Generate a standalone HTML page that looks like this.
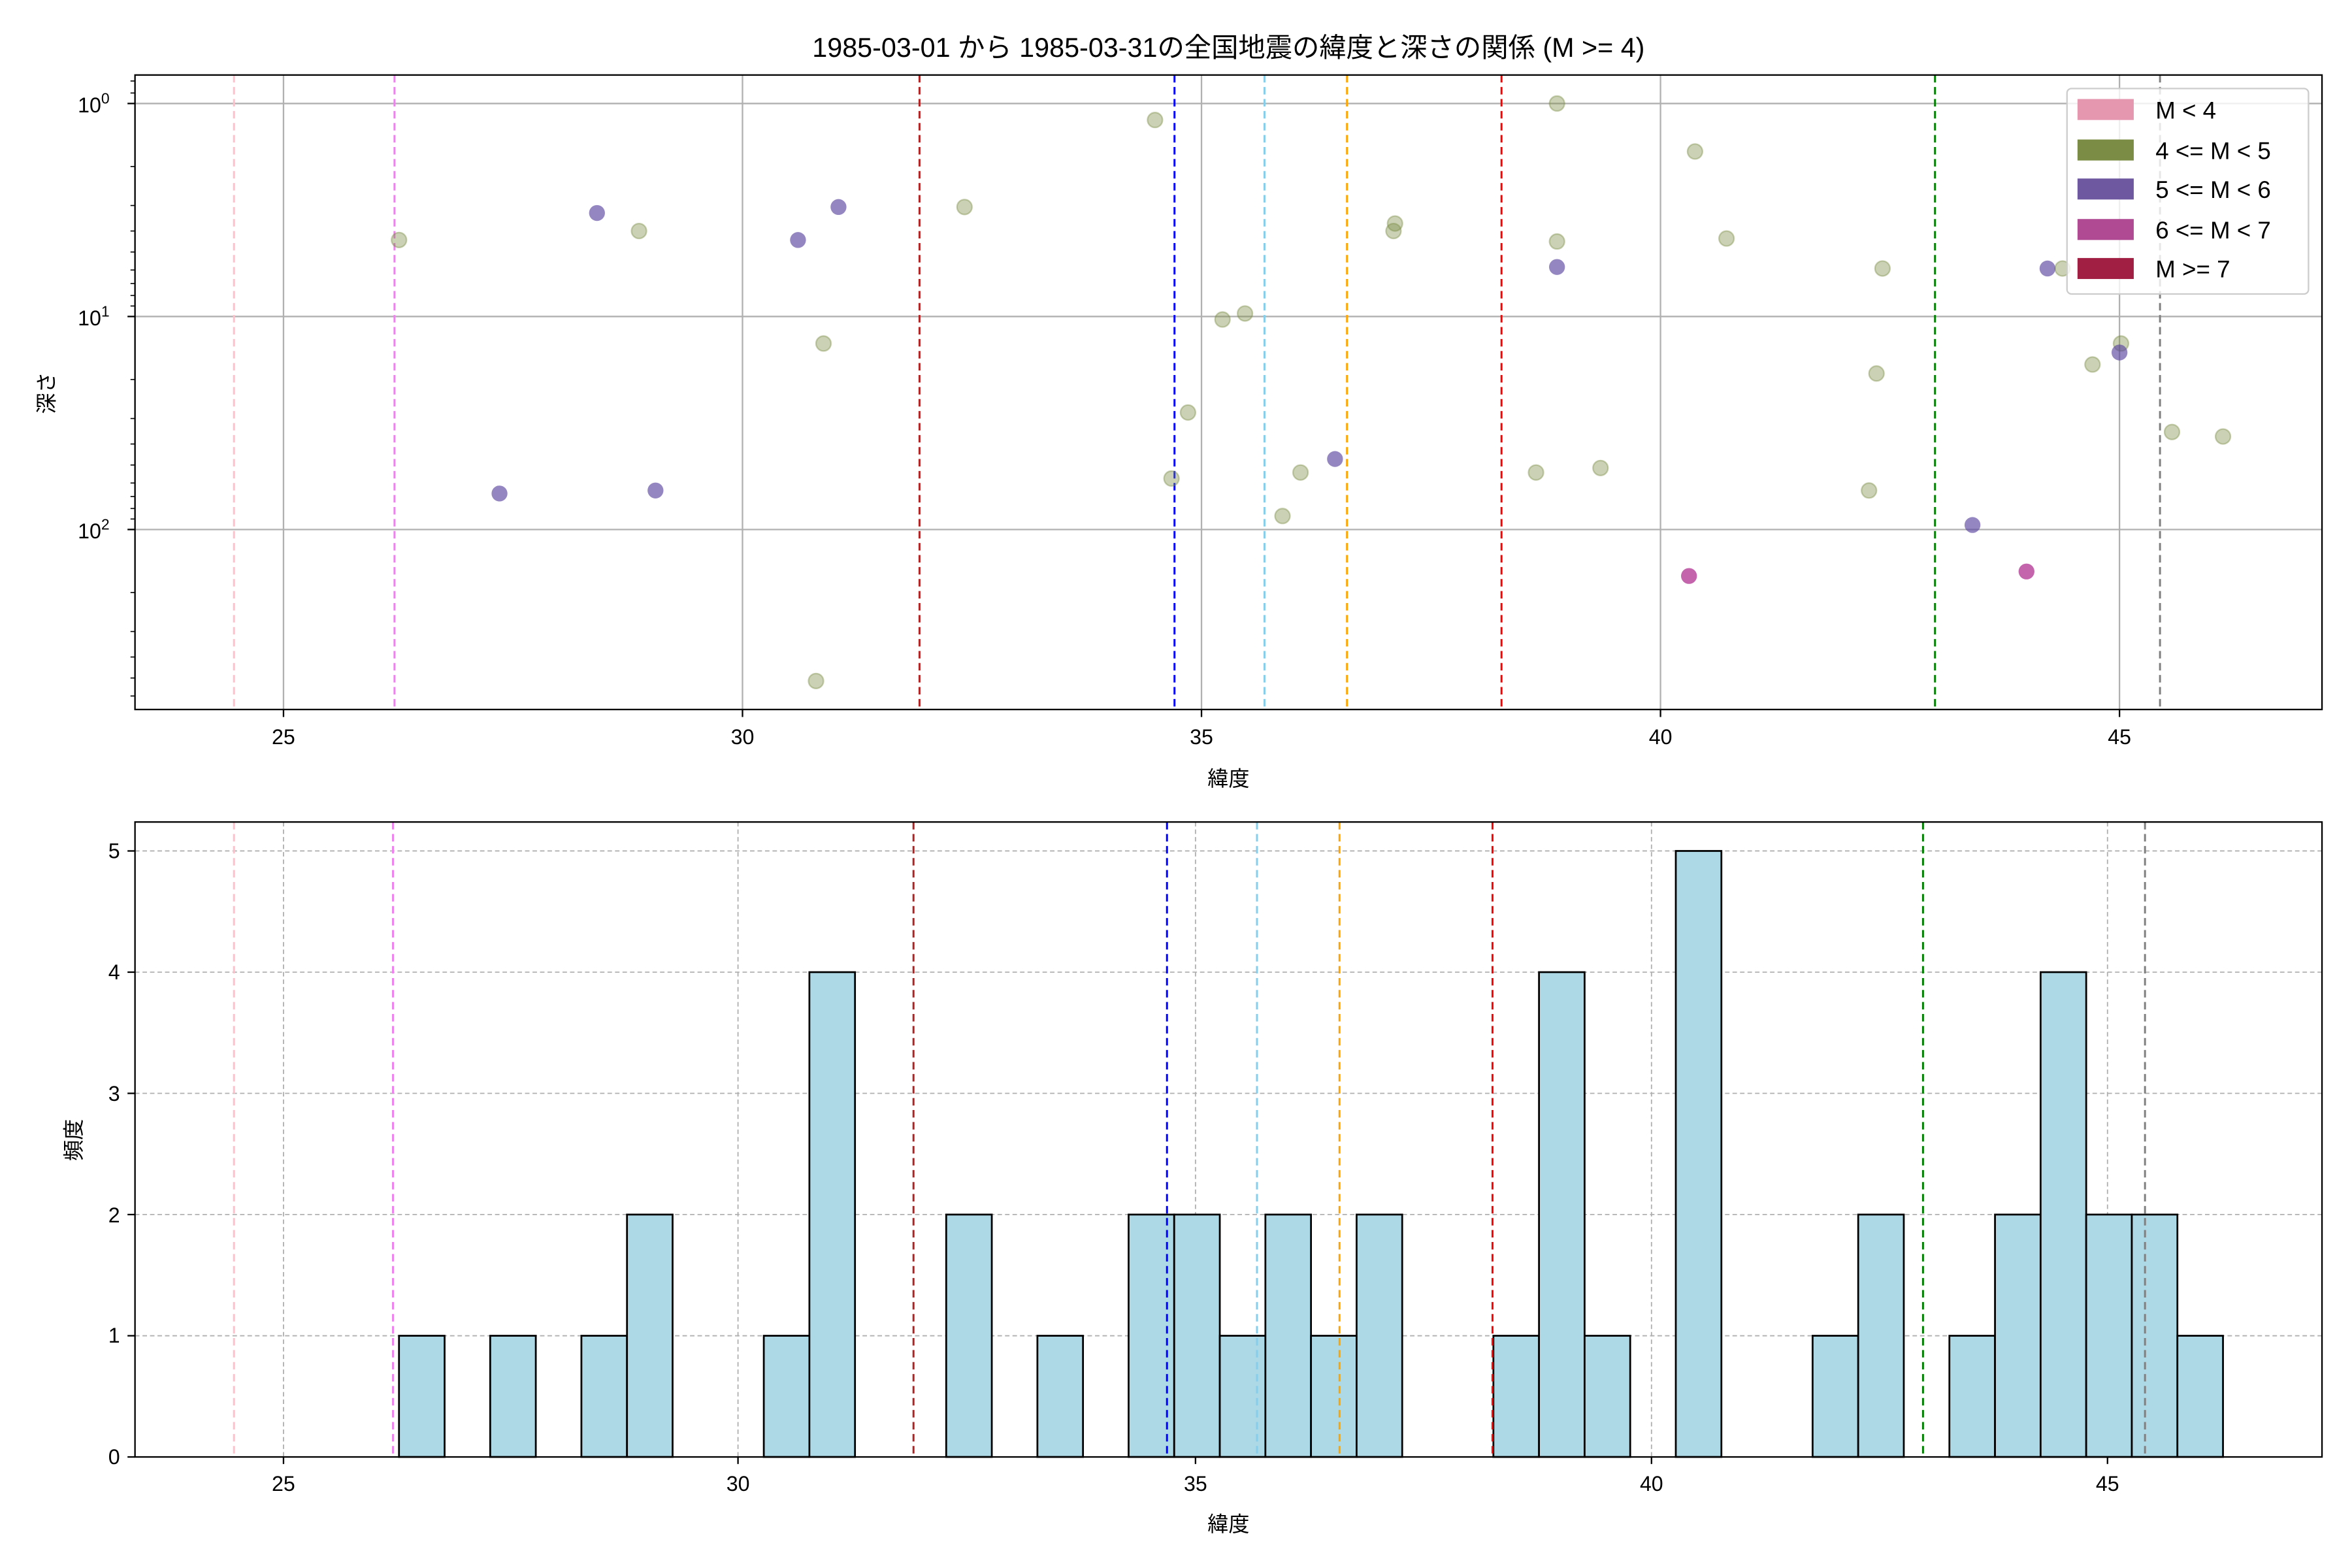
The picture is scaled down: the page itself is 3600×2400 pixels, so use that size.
<!DOCTYPE html>
<html><head><meta charset="utf-8"><style>
html,body{margin:0;padding:0;background:#fff;}
svg{display:block;}
text{font-family:"Liberation Sans","Noto Sans CJK JP",sans-serif;fill:#000;}
</style></head><body>
<svg width="3600" height="2400" viewBox="0 0 1568 1045.33" xmlns="http://www.w3.org/2000/svg">
<rect x="0" y="0" width="1568" height="1046" fill="#fff"/>
<text x="819" y="38" font-size="18" text-anchor="middle">1985-03-01 から 1985-03-31の全国地震の緯度と深さの関係 (M &gt;= 4)</text>

<!-- TOP AXES -->
<g stroke="#b0b0b0" stroke-width="1">
<line x1="189" y1="50" x2="189" y2="473"/><line x1="495" y1="50" x2="495" y2="473"/>
<line x1="801" y1="50" x2="801" y2="473"/><line x1="1107" y1="50" x2="1107" y2="473"/>
<line x1="1413" y1="50" x2="1413" y2="473"/>
<line x1="90" y1="69" x2="1548" y2="69"/><line x1="90" y1="211" x2="1548" y2="211"/><line x1="90" y1="353" x2="1548" y2="353"/>
</g>
<g stroke-width="1.3" stroke-dasharray="5,3" fill="none">
<line x1="156" y1="50" x2="156" y2="473" stroke="pink"/>
<line x1="263" y1="50" x2="263" y2="473" stroke="violet"/>
<line x1="613" y1="50" x2="613" y2="473" stroke="#b22222"/>
<line x1="783" y1="50" x2="783" y2="473" stroke="blue"/>
<line x1="843" y1="50" x2="843" y2="473" stroke="skyblue"/>
<line x1="898" y1="50" x2="898" y2="473" stroke="orange"/>
<line x1="1001" y1="50" x2="1001" y2="473" stroke="red"/>
<line x1="1290" y1="50" x2="1290" y2="473" stroke="green"/>
<line x1="1440" y1="50" x2="1440" y2="473" stroke="gray"/>
</g>
<g fill="#7b8c44" fill-opacity="0.4" stroke="#7b8c44" stroke-opacity="0.4" stroke-width="1">
<circle cx="266" cy="160" r="5"/><circle cx="426" cy="154" r="5"/><circle cx="549" cy="229" r="5"/>
<circle cx="643" cy="138" r="5"/><circle cx="770" cy="80" r="5"/><circle cx="792" cy="275" r="5"/>
<circle cx="781" cy="319" r="5"/><circle cx="815" cy="213" r="5"/><circle cx="830" cy="209" r="5"/>
<circle cx="855" cy="344" r="5"/><circle cx="867" cy="315" r="5"/><circle cx="929" cy="154" r="5"/>
<circle cx="930" cy="149" r="5"/><circle cx="1038" cy="69" r="5"/><circle cx="1038" cy="161" r="5"/>
<circle cx="1024" cy="315" r="5"/><circle cx="1067" cy="312" r="5"/><circle cx="1130" cy="101" r="5"/>
<circle cx="1151" cy="159" r="5"/><circle cx="1255" cy="179" r="5"/><circle cx="1251" cy="249" r="5"/>
<circle cx="1246" cy="327" r="5"/><circle cx="1375" cy="179" r="5"/><circle cx="1395" cy="243" r="5"/>
<circle cx="1414" cy="229" r="5"/><circle cx="1448" cy="288" r="5"/><circle cx="1482" cy="291" r="5"/>
<circle cx="544" cy="454" r="5"/>
</g>
<g fill="#5b45a0" fill-opacity="0.65">
<circle cx="398" cy="142" r="5.3"/><circle cx="532" cy="160" r="5.3"/><circle cx="559" cy="138" r="5.3"/>
<circle cx="333" cy="329" r="5.3"/><circle cx="437" cy="327" r="5.3"/><circle cx="890" cy="306" r="5.3"/>
<circle cx="1038" cy="178" r="5.3"/><circle cx="1365" cy="179" r="5.3"/><circle cx="1413" cy="235" r="5.3"/>
<circle cx="1315" cy="350" r="5.3"/>
</g>
<g fill="#b03090" fill-opacity="0.75">
<circle cx="1126" cy="384" r="5.3"/><circle cx="1351" cy="381" r="5.3"/>
</g>
<rect x="90" y="50" width="1458" height="423" fill="none" stroke="#000" stroke-width="1"/>
<!-- top ticks -->
<g stroke="#000" stroke-width="1">
<line x1="189" y1="473" x2="189" y2="478"/><line x1="495" y1="473" x2="495" y2="478"/>
<line x1="801" y1="473" x2="801" y2="478"/><line x1="1107" y1="473" x2="1107" y2="478"/>
<line x1="1413" y1="473" x2="1413" y2="478"/>
<line x1="85" y1="69" x2="90" y2="69"/><line x1="85" y1="211" x2="90" y2="211"/><line x1="85" y1="353" x2="90" y2="353"/>
</g>
<g stroke="#000" stroke-width="0.7">
<line x1="87" y1="54" x2="90" y2="54"/><line x1="87" y1="62" x2="90" y2="62"/>
<line x1="87" y1="111" x2="90" y2="111"/><line x1="87" y1="137" x2="90" y2="137"/><line x1="87" y1="154" x2="90" y2="154"/><line x1="87" y1="168" x2="90" y2="168"/><line x1="87" y1="180" x2="90" y2="180"/><line x1="87" y1="189" x2="90" y2="189"/><line x1="87" y1="197" x2="90" y2="197"/><line x1="87" y1="204" x2="90" y2="204"/>
<line x1="87" y1="253" x2="90" y2="253"/><line x1="87" y1="279" x2="90" y2="279"/><line x1="87" y1="296" x2="90" y2="296"/><line x1="87" y1="310" x2="90" y2="310"/><line x1="87" y1="322" x2="90" y2="322"/><line x1="87" y1="331" x2="90" y2="331"/><line x1="87" y1="339" x2="90" y2="339"/><line x1="87" y1="346" x2="90" y2="346"/>
<line x1="87" y1="395" x2="90" y2="395"/><line x1="87" y1="421" x2="90" y2="421"/><line x1="87" y1="438" x2="90" y2="438"/><line x1="87" y1="452" x2="90" y2="452"/><line x1="87" y1="464" x2="90" y2="464"/>
</g>
<g font-size="14" text-anchor="middle">
<text x="189" y="496">25</text><text x="495" y="496">30</text><text x="801" y="496">35</text><text x="1107" y="496">40</text><text x="1413" y="496">45</text>
</g>
<g font-size="14" text-anchor="end">
<text x="73" y="75">10<tspan font-size="10" dy="-6">0</tspan></text>
<text x="73" y="217">10<tspan font-size="10" dy="-6">1</tspan></text>
<text x="73" y="359">10<tspan font-size="10" dy="-6">2</tspan></text>
</g>
<text x="819" y="524" font-size="14" text-anchor="middle">緯度</text>
<text transform="translate(36,262) rotate(-90)" font-size="14" text-anchor="middle">深さ</text>

<!-- legend -->
<rect x="1378" y="59" width="161" height="137" rx="3" fill="#fff" fill-opacity="0.8" stroke="#ccc" stroke-width="1"/>
<rect x="1385" y="66" width="37.5" height="14" fill="#e597b0"/>
<rect x="1385" y="93" width="37.5" height="14" fill="#7b8c44"/>
<rect x="1385" y="119" width="37.5" height="14" fill="#6e58a0"/>
<rect x="1385" y="146" width="37.5" height="14" fill="#b04b93"/>
<rect x="1385" y="172" width="37.5" height="14" fill="#a01f42"/>
<g font-size="16">
<text x="1437" y="79">M &lt; 4</text>
<text x="1437" y="106">4 &lt;= M &lt; 5</text>
<text x="1437" y="132">5 &lt;= M &lt; 6</text>
<text x="1437" y="159">6 &lt;= M &lt; 7</text>
<text x="1437" y="185">M &gt;= 7</text>
</g>

<!-- BOTTOM AXES -->
<g stroke="#b0b0b0" stroke-width="0.8" stroke-dasharray="3,2">
<line x1="189" y1="548" x2="189" y2="971"/><line x1="492" y1="548" x2="492" y2="971"/>
<line x1="797" y1="548" x2="797" y2="971"/><line x1="1101" y1="548" x2="1101" y2="971"/>
<line x1="1405" y1="548" x2="1405" y2="971"/>
<line x1="90" y1="890.5" x2="1548" y2="890.5"/><line x1="90" y1="809.7" x2="1548" y2="809.7"/>
<line x1="90" y1="728.9" x2="1548" y2="728.9"/><line x1="90" y1="648.1" x2="1548" y2="648.1"/>
<line x1="90" y1="567.3" x2="1548" y2="567.3"/>
</g>
<g fill="#add8e6" stroke="#000" stroke-width="1.2">
<rect x="266" y="890.5" width="30.4" height="80.8"/>
<rect x="326.8" y="890.5" width="30.4" height="80.8"/>
<rect x="387.6" y="890.5" width="30.4" height="80.8"/>
<rect x="418" y="809.7" width="30.4" height="161.6"/>
<rect x="509.2" y="890.5" width="30.4" height="80.8"/>
<rect x="539.6" y="648.1" width="30.4" height="323.2"/>
<rect x="630.8" y="809.7" width="30.4" height="161.6"/>
<rect x="691.6" y="890.5" width="30.4" height="80.8"/>
<rect x="752.4" y="809.7" width="30.4" height="161.6"/>
<rect x="782.8" y="809.7" width="30.4" height="161.6"/>
<rect x="813.2" y="890.5" width="30.4" height="80.8"/>
<rect x="843.6" y="809.7" width="30.4" height="161.6"/>
<rect x="874" y="890.5" width="30.4" height="80.8"/>
<rect x="904.4" y="809.7" width="30.4" height="161.6"/>
<rect x="995.6" y="890.5" width="30.4" height="80.8"/>
<rect x="1026" y="648.1" width="30.4" height="323.2"/>
<rect x="1056.4" y="890.5" width="30.4" height="80.8"/>
<rect x="1117.2" y="567.3" width="30.4" height="404"/>
<rect x="1208.4" y="890.5" width="30.4" height="80.8"/>
<rect x="1238.8" y="809.7" width="30.4" height="161.6"/>
<rect x="1299.6" y="890.5" width="30.4" height="80.8"/>
<rect x="1330" y="809.7" width="30.4" height="161.6"/>
<rect x="1360.4" y="648.1" width="30.4" height="323.2"/>
<rect x="1390.8" y="809.7" width="30.4" height="161.6"/>
<rect x="1421.2" y="809.7" width="30.4" height="161.6"/>
<rect x="1451.6" y="890.5" width="30.4" height="80.8"/>
</g>
<g stroke-width="1.3" stroke-dasharray="5,3" fill="none">
<line x1="156" y1="548" x2="156" y2="971" stroke="pink"/>
<line x1="262" y1="548" x2="262" y2="971" stroke="violet"/>
<line x1="609" y1="548" x2="609" y2="971" stroke="#b22222"/>
<line x1="778" y1="548" x2="778" y2="971" stroke="blue"/>
<line x1="838" y1="548" x2="838" y2="971" stroke="skyblue"/>
<line x1="893" y1="548" x2="893" y2="971" stroke="orange"/>
<line x1="995" y1="548" x2="995" y2="971" stroke="red"/>
<line x1="1282" y1="548" x2="1282" y2="971" stroke="green"/>
<line x1="1430" y1="548" x2="1430" y2="971" stroke="gray"/>
</g>
<rect x="90" y="548" width="1458" height="423.3" fill="none" stroke="#000" stroke-width="1"/>
<g stroke="#000" stroke-width="1">
<line x1="189" y1="971" x2="189" y2="976"/><line x1="492" y1="971" x2="492" y2="976"/>
<line x1="797" y1="971" x2="797" y2="976"/><line x1="1101" y1="971" x2="1101" y2="976"/>
<line x1="1405" y1="971" x2="1405" y2="976"/>
<line x1="85" y1="971.3" x2="90" y2="971.3"/><line x1="85" y1="890.5" x2="90" y2="890.5"/>
<line x1="85" y1="809.7" x2="90" y2="809.7"/><line x1="85" y1="728.9" x2="90" y2="728.9"/>
<line x1="85" y1="648.1" x2="90" y2="648.1"/><line x1="85" y1="567.3" x2="90" y2="567.3"/>
</g>
<g font-size="14" text-anchor="middle">
<text x="189" y="994">25</text><text x="492" y="994">30</text><text x="797" y="994">35</text><text x="1101" y="994">40</text><text x="1405" y="994">45</text>
</g>
<g font-size="14" text-anchor="end">
<text x="80" y="976">0</text><text x="80" y="895">1</text><text x="80" y="815">2</text>
<text x="80" y="734">3</text><text x="80" y="653">4</text><text x="80" y="572">5</text>
</g>
<text x="819" y="1021" font-size="14" text-anchor="middle">緯度</text>
<text transform="translate(54,760) rotate(-90)" font-size="14" text-anchor="middle">頻度</text>
</svg>
</body></html>
